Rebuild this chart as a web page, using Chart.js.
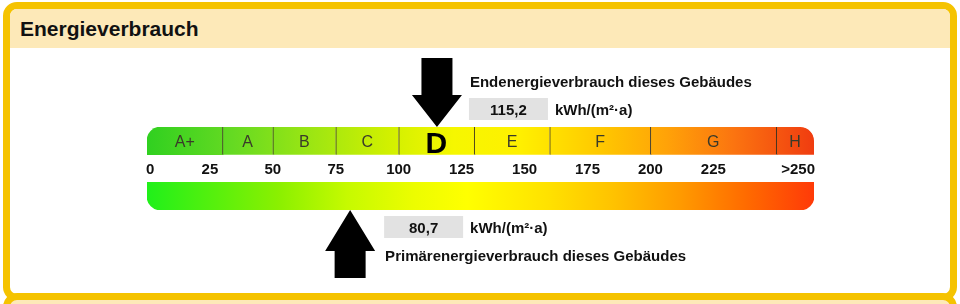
<!DOCTYPE html>
<html lang="de">
<head>
<meta charset="utf-8">
<title>Energieverbrauch</title>
<script src="https://cdn.jsdelivr.net/npm/chart.js@4.4.1/dist/chart.umd.min.js"></script>
<style>
  html, body { margin: 0; padding: 0; background: #fff; }
  body { width: 960px; height: 304px; position: relative; overflow: hidden; font-family: "Liberation Sans", Arial, sans-serif; }
  .rahmen { position: absolute; left: 3px; top: 2px; width: 940px; height: 285px; border: 7px solid #f5c300; border-radius: 14px; background: #fff; }
  .rahmen.naechster { top: 293px; height: 100px; background: #fde9b8; }
  .kopf { height: 39px; line-height: 40px; padding-left: 10px; background: #fde9b8; border-radius: 7px 7px 0 0; font-weight: bold; font-size: 21px; color: #111; }
  #energie { position: absolute; left: 0; top: 0; }
</style>
</head>
<body>
<div class="rahmen"><div class="kopf">Energieverbrauch</div></div>
<div class="rahmen naechster"></div>
<canvas id="energie" width="960" height="304"></canvas>
<script>
const klassen = ["A+", "A", "B", "C", "D", "E", "F", "G", "H"];
const klassenVon = [0, 30, 50, 75, 100, 130, 160, 200, 250];
const klassenBis = [30, 50, 75, 100, 130, 160, 200, 250, 265];
const skalaWerte = [0, 25, 50, 75, 100, 125, 150, 175, 200, 225, 250];
const skalaLabels = ["0", "25", "50", "75", "100", "125", "150", "175", "200", "225", ">250"];
const zeilen = ["Klassen", "Werte", "Skala"];
const endenergie = 115.2;
const primaerenergie = 80.7;
const einheit = "kWh/(m²·a)";

// Farbverläufe (Anteil der Skalenbreite, Farbe)
const verlaufOben = [
  [0, "#30d020"], [0.13, "#66da22"], [0.25, "#9ee612"], [0.36, "#d0f000"],
  [0.46, "#f6f700"], [0.56, "#fff000"], [0.68, "#ffc800"], [0.78, "#ffa208"],
  [0.88, "#fb7410"], [1, "#f03c10"],
];
const verlaufUnten = [
  [0, "#20f01a"], [0.2, "#8cf000"], [0.3, "#c6fa00"], [0.4, "#ecfd00"],
  [0.48, "#ffff00"], [0.6, "#ffe200"], [0.7, "#ffc200"], [0.8, "#ff9a00"],
  [0.9, "#ff6a00"], [1, "#ff3a08"],
];

function verlauf(chart, stops) {
  const area = chart.chartArea;
  if (!area) return stops[0][1];
  const g = chart.ctx.createLinearGradient(area.left, 0, area.right, 0);
  stops.forEach(([p, c]) => g.addColorStop(p, c));
  return g;
}

function pfeil(ctx, x, spitze, ende, kopf) {
  const dir = ende > spitze ? 1 : -1;
  const basis = spitze + dir * kopf;
  ctx.beginPath();
  ctx.moveTo(x, spitze);
  ctx.lineTo(x + 25, basis);
  ctx.lineTo(x + 15.5, basis);
  ctx.lineTo(x + 15.5, ende);
  ctx.lineTo(x - 15.5, ende);
  ctx.lineTo(x - 15.5, basis);
  ctx.lineTo(x - 25, basis);
  ctx.closePath();
  ctx.fillStyle = "#000";
  ctx.fill();
}

function wertFeld(ctx, left, top, text) {
  ctx.fillStyle = "#e2e2e2";
  ctx.fillRect(left, top, 79, 22);
  ctx.fillStyle = "#111";
  ctx.font = "bold 15px 'Liberation Sans', Arial, sans-serif";
  ctx.textAlign = "center";
  ctx.textBaseline = "alphabetic";
  ctx.fillText(text, left + 39.5, top + 16.5);
  ctx.textAlign = "left";
  ctx.fillText(einheit, left + 86, top + 16.5);
}

const beschriftung = {
  id: "beschriftung",
  afterDatasetsDraw(chart) {
    const { ctx, chartArea, scales: { x, y } } = chart;
    ctx.save();

    // Klassenbuchstaben in den Balken
    const aktiv = klassenVon.findIndex((von, i) => endenergie >= von && endenergie < klassenBis[i]);
    chart.getDatasetMeta(0).data.forEach((bar, i) => {
      const p = bar.getCenterPoint();
      ctx.textAlign = "center";
      ctx.textBaseline = "alphabetic";
      if (i === aktiv) {
        ctx.fillStyle = "#000";
        ctx.font = "bold 30px 'Liberation Sans Narrow', 'Liberation Sans', Arial, sans-serif";
        ctx.fillText(klassen[i], p.x, p.y + 12);
      } else {
        ctx.fillStyle = "#3a3a2a";
        ctx.font = "16px 'Liberation Sans Narrow', 'Liberation Sans', Arial, sans-serif";
        ctx.fillText(klassen[i], p.x, p.y + 6.5);
      }
    });

    // Skalenwerte zwischen den Balken
    const yWerte = y.getPixelForValue(zeilen.indexOf("Werte"));
    ctx.fillStyle = "#111";
    ctx.font = "bold 15px 'Liberation Sans', Arial, sans-serif";
    skalaWerte.forEach((v, i) => {
      let px = x.getPixelForValue(v);
      ctx.textAlign = "center";
      if (i === 0) { ctx.textAlign = "left"; px -= 1; }
      if (i === skalaWerte.length - 1) { ctx.textAlign = "right"; px = chartArea.right + 1; }
      ctx.fillText(skalaLabels[i], px, yWerte + 5.5);
    });

    // Endenergie: Pfeil von oben
    const xe = x.getPixelForValue(endenergie);
    pfeil(ctx, xe, chartArea.top, chartArea.top - 69, 32);
    ctx.fillStyle = "#111";
    ctx.font = "bold 15px 'Liberation Sans', Arial, sans-serif";
    ctx.textAlign = "left";
    ctx.fillText("Endenergieverbrauch dieses Gebäudes", xe + 33, 87);
    wertFeld(ctx, xe + 32, 98, endenergie.toLocaleString("de-DE", { minimumFractionDigits: 1 }));

    // Primärenergie: Pfeil von unten
    const xp = x.getPixelForValue(primaerenergie);
    pfeil(ctx, xp, chartArea.bottom, chartArea.bottom + 68, 41);
    wertFeld(ctx, xp + 34, 216, primaerenergie.toLocaleString("de-DE", { minimumFractionDigits: 1 }));
    ctx.fillStyle = "#111";
    ctx.font = "bold 15px 'Liberation Sans', Arial, sans-serif";
    ctx.textAlign = "left";
    ctx.fillText("Primärenergieverbrauch dieses Gebäudes", xp + 35, 261);

    ctx.restore();
  },
};

new Chart(document.getElementById("energie"), {
  type: "bar",
  data: {
    labels: zeilen,
    datasets: [
      {
        label: "Energieeffizienzklassen",
        data: klassen.map((k, i) => ({ x: [klassenVon[i], klassenBis[i]], y: "Klassen" })),
        backgroundColor: (c) => verlauf(c.chart, verlaufOben),
        borderColor: "#3b3320",
        borderWidth: (c) => ({ left: c.dataIndex > 0 ? 1 : 0, top: 0, right: 0, bottom: 0 }),
        borderRadius: (c) => ({
          topLeft: c.dataIndex === 0 ? 14 : 0,
          topRight: c.dataIndex === klassen.length - 1 ? 14 : 0,
          bottomLeft: 0,
          bottomRight: 0,
        }),
        borderSkipped: false,
        grouped: false,
        categoryPercentage: 1,
        barPercentage: 1,
      },
      {
        label: "Skala",
        data: [{ x: [klassenVon[0], klassenBis[klassenBis.length - 1]], y: "Skala" }],
        backgroundColor: (c) => verlauf(c.chart, verlaufUnten),
        borderWidth: 0,
        borderRadius: { topLeft: 0, topRight: 0, bottomLeft: 14, bottomRight: 14 },
        borderSkipped: false,
        grouped: false,
        categoryPercentage: 1,
        barPercentage: 1,
      },
    ],
  },
  options: {
    indexAxis: "y",
    responsive: false,
    animation: false,
    layout: { padding: { left: 147, right: 146, top: 127, bottom: 94 } },
    plugins: { legend: { display: false }, tooltip: { enabled: false } },
    scales: {
      x: { type: "linear", min: 0, max: 265, display: false },
      y: { type: "category", display: false },
    },
  },
  plugins: [beschriftung],
});
</script>
</body>
</html>
